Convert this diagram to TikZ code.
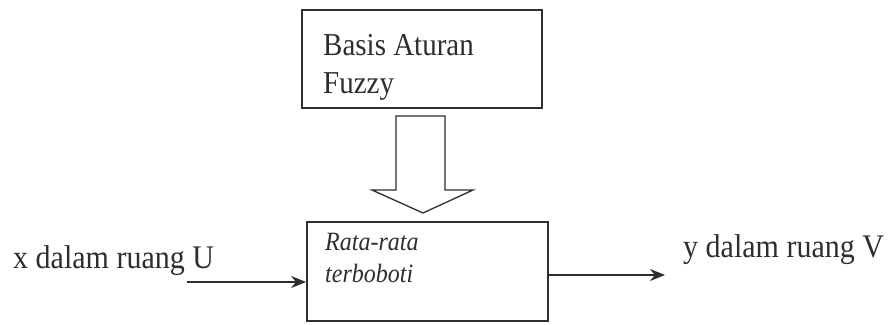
\documentclass[tikz,border=0pt]{standalone}
\usepackage{fontspec}
\setmainfont{Liberation Serif}
\usetikzlibrary{arrows.meta}
\definecolor{ink}{HTML}{2E2E2E}
\begin{document}
\begin{tikzpicture}[x=1pt,y=-1pt,
  blockbox/.style={draw=ink,line width=1.8pt,inner sep=0pt},
  flowline/.style={draw=ink,line width=1.5pt,-{Stealth[length=15pt,width=12pt]}},
  labeltext/.style={text=ink,font=\fontsize{30}{36}\selectfont,anchor=base west,inner sep=0pt,yscale=1.1},
  boxtext/.style={text=ink,font=\fontsize{29}{36}\selectfont,anchor=base west,inner sep=0pt,yscale=1.1},
  itext/.style={text=ink,font=\itshape\fontsize{24}{30}\selectfont,anchor=base west,inner sep=0pt,yscale=1.1}]
\useasboundingbox (0,0) rectangle (896,324);
% rule base block
\path[blockbox] (302,10) rectangle (542,108);
\node[boxtext] (rb1) at (323,55) {Basis Aturan};
\node[boxtext] (rb2) at (323,93) {Fuzzy};
% hollow block arrow towards the weighted-average block
\draw[ink,line width=1.3pt,line join=miter]
  (396,116) -- (445,116) -- (445,190) -- (473,190) -- (423,213)
  -- (372,190) -- (396,190) -- cycle;
% weighted-average block
\node[blockbox,minimum width=241pt,minimum height=99pt] (wa) at (427.5,271.5) {};
\node[itext] (wa1) at (325,250) {Rata-rata};
\node[itext] (wa2) at (325,282) {terboboti};
% input and output
\node[labeltext] (xin) at (13,268) {x dalam ruang U};
\node[labeltext] (yout) at (683,257) {y dalam ruang V};
\coordinate (xstart) at (187,282);
\coordinate (yend) at (665,275);
\draw[flowline] (xstart) -- (xstart -| wa.west);
\draw[flowline] (yend -| wa.east) -- (yend);
\end{tikzpicture}
\end{document}
